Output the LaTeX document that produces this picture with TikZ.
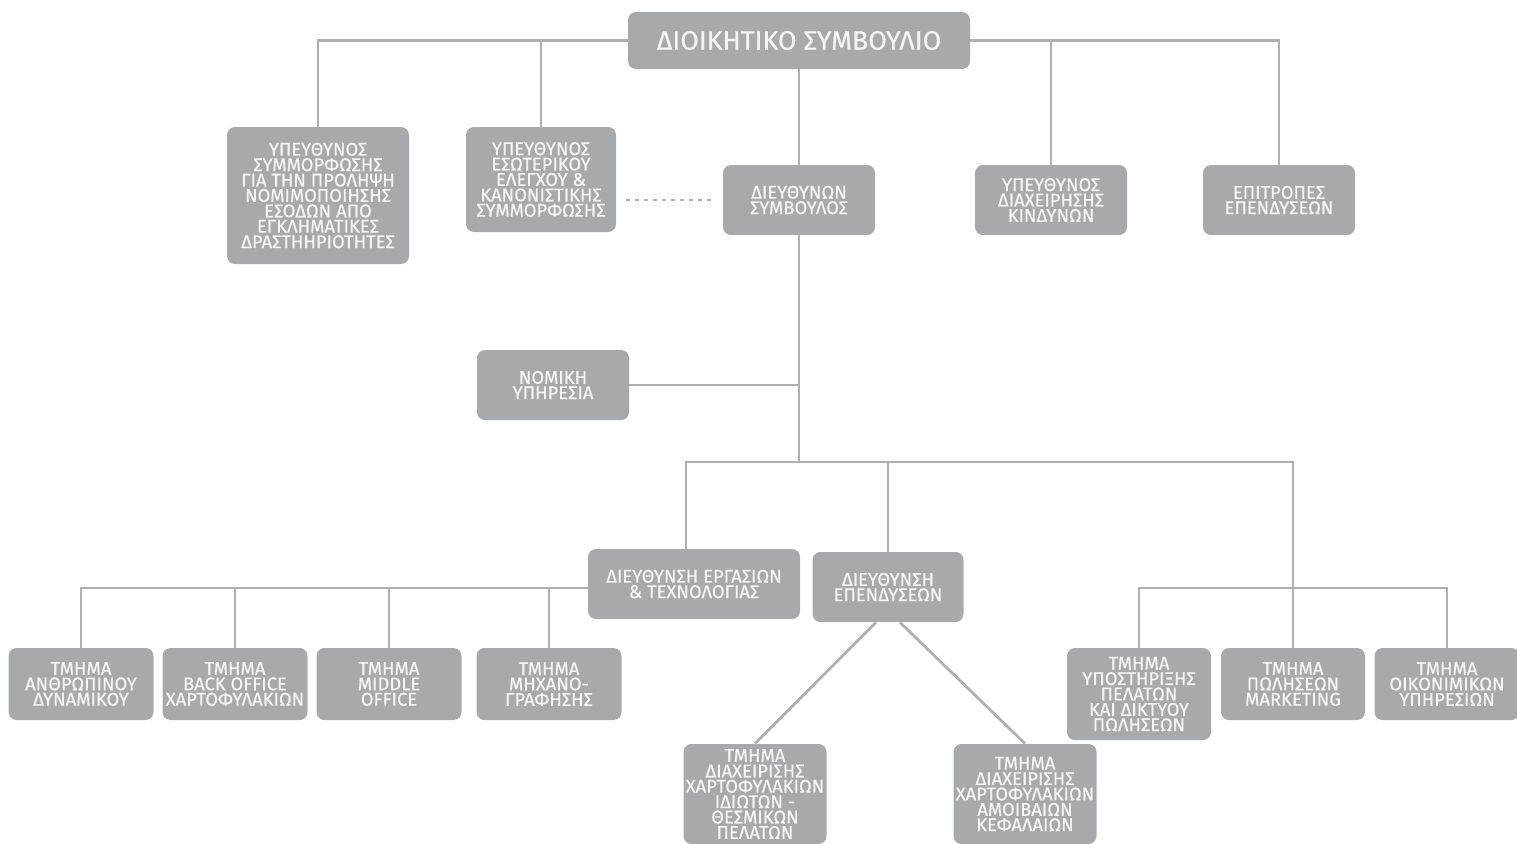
\documentclass[tikz,border=0pt]{standalone}
\usepackage{fontspec}
\newfontfamily\orgfont[FakeBold=0.6]{Fira Sans}
\definecolor{boxgray}{RGB}{168,169,171}
\definecolor{linegray}{RGB}{176,176,176}
\definecolor{txtwhite}{RGB}{244,244,244}
\tikzstyle{unit}=[rounded corners=4pt,fill=boxgray,text=txtwhite,align=center,inner sep=0pt,
  font=\orgfont\fontsize{9.2}{7.7}\selectfont]
\tikzstyle{conn}=[draw=linegray,line width=1.4pt]

\begin{document}
\begin{tikzpicture}[x=0.5pt,y=-0.5pt]
\useasboundingbox (0,0) rectangle (1517,843);

%board and direct reports
\node[unit,minimum width=171pt,minimum height=28.5pt,font=\orgfont\fontsize{13.4}{14}\selectfont] (board) at (799,40.5) {ΔΙΟΙΚΗΤΙΚΟ ΣΥΜΒΟΥΛΙΟ};
\node[unit,minimum width=91pt,minimum height=68.5pt] (aml) at (318,195.5) {ΥΠΕΥΘΥΝΟΣ\\ΣΥΜΜΟΡΦΩΣΗΣ\\ΓΙΑ ΤΗΝ ΠΡΟΛΗΨΗ\\ΝΟΜΙΜΟΠΟΙΗΣΗΣ\\ΕΣΟΔΩΝ ΑΠΟ\\ΕΓΚΛΗΜΑΤΙΚΕΣ\\ΔΡΑΣΤΗΗΡΙΟΤΗΤΕΣ};
\node[unit,minimum width=75pt,minimum height=52.5pt] (audit) at (541,179.5) {ΥΠΕΥΘΥΝΟΣ\\ΕΣΩΤΕΡΙΚΟΥ\\ΕΛΕΓΧΟΥ \&\\ΚΑΝΟΝΙΣΤΙΚΗΣ\\ΣΥΜΜΟΡΦΩΣΗΣ};
\node[unit,minimum width=76pt,minimum height=35pt] (ceo) at (799,200) {ΔΙΕΥΘΥΝΩΝ\\ΣΥΜΒΟΥΛΟΣ};
\node[unit,minimum width=76pt,minimum height=35pt] (risk) at (1051,200) {ΥΠΕΥΘΥΝΟΣ\\ΔΙΑΧΕΙΡΗΣΗΣ\\ΚΙΝΔΥΝΩΝ};
\node[unit,minimum width=76pt,minimum height=35pt] (invcom) at (1279,200) {ΕΠΙΤΡΟΠΕΣ\\ΕΠΕΝΔΥΣΕΩΝ};
\node[unit,minimum width=76pt,minimum height=35pt] (legal) at (553,385) {ΝΟΜΙΚΗ\\ΥΠΗΡΕΣΙΑ};

%divisions
\coordinate (hub) at (799,462);
\node[unit,minimum width=106pt,minimum height=35pt] (ops) at (694,584) {ΔΙΕΥΘΥΝΣΗ ΕΡΓΑΣΙΩΝ\\\& ΤΕΧΝΟΛΟΓΙΑΣ};
\node[unit,minimum width=75.5pt,minimum height=35pt] (inv) at (888,587) {ΔΙΕΥΘΥΝΣΗ\\ΕΠΕΝΔΥΣΕΩΝ};

%departments
\node[unit,minimum width=72.5pt,minimum height=36pt] (hr) at (81,684) {ΤΜΗΜΑ\\ΑΝΘΡΩΠΙΝΟΥ\\ΔΥΝΑΜΙΚΟΥ};
\node[unit,minimum width=72.5pt,minimum height=36pt] (bo) at (235,684) {ΤΜΗΜΑ\\BACK OFFICE\\ΧΑΡΤΟΦΥΛΑΚΙΩΝ};
\node[unit,minimum width=72.5pt,minimum height=36pt] (mo) at (389,684) {ΤΜΗΜΑ\\MIDDLE\\OFFICE};
\node[unit,minimum width=72.5pt,minimum height=36pt] (it) at (549,684) {ΤΜΗΜΑ\\ΜΗΧΑΝΟ-\\ΓΡΑΦΗΣΗΣ};
\node[unit,minimum width=72pt,minimum height=46pt] (sup) at (1139,694) {ΤΜΗΜΑ\\ΥΠΟΣΤΗΡΙΞΗΣ\\ΠΕΛΑΤΩΝ\\ΚΑΙ ΔΙΚΤΥΟΥ\\ΠΩΛΗΣΕΩΝ};
\node[unit,minimum width=72pt,minimum height=36pt] (mkt) at (1293,684) {ΤΜΗΜΑ\\ΠΩΛΗΣΕΩΝ\\MARKETING};
\node[unit,minimum width=72.5pt,minimum height=36pt] (fin) at (1447,684) {ΤΜΗΜΑ\\ΟΙΚΟΝΙΜΙΚΩΝ\\ΥΠΗΡΕΣΙΩΝ};
\node[unit,minimum width=71.5pt,minimum height=50pt] (pm) at (755,794) {ΤΜΗΜΑ\\ΔΙΑΧΕΙΡΙΣΗΣ\\ΧΑΡΤΟΦΥΛΑΚΙΩΝ\\ΙΔΙΩΤΩΝ -\\ΘΕΣΜΙΚΩΝ\\ΠΕΛΑΤΩΝ};
\node[unit,minimum width=71.5pt,minimum height=50pt] (mf) at (1025,794) {ΤΜΗΜΑ\\ΔΙΑΧΕΙΡΙΣΗΣ\\ΧΑΡΤΟΦΥΛΑΚΙΩΝ\\ΑΜΟΙΒΑΙΩΝ\\ΚΕΦΑΛΑΙΩΝ};

%connectors
\draw[conn] (aml.north) |- (board.west);
\draw[conn] (audit.north) -- (audit.north |- board.west);
\draw[conn] (board.east) -| (risk.north);
\draw[conn] (board.east) -| (invcom.north);
\draw[conn] (board.south) -- (ceo.north);
\draw[conn,dash pattern=on 2pt off 2.5pt,line width=1pt,shorten <=5pt,shorten >=5.5pt] (audit.east |- ceo.west) -- (ceo.west);
\draw[conn] (ceo.south) -- (hub);
\draw[conn] (legal.east) -- (legal.east -| hub);
\draw[conn] ([xshift=-4pt]ops.north) |- (hub) -| (mkt.north);
\draw[conn] (inv.north) -- (inv.north |- hub);
\draw[conn] (ops.west |- 0,588) -| (hr.north);
\draw[conn] (bo.north) -- (bo.north |- 0,588);
\draw[conn] (mo.north) -- (mo.north |- 0,588);
\draw[conn] (it.north) -- (it.north |- 0,588);
\draw[conn] (sup.north) |- (mkt.north |- 0,588) -| (fin.north);
\draw[conn] ([xshift=-6pt]inv.south) -- (pm.north);
\draw[conn] ([xshift=6pt]inv.south) -- (mf.north);

\end{tikzpicture}
\end{document}
